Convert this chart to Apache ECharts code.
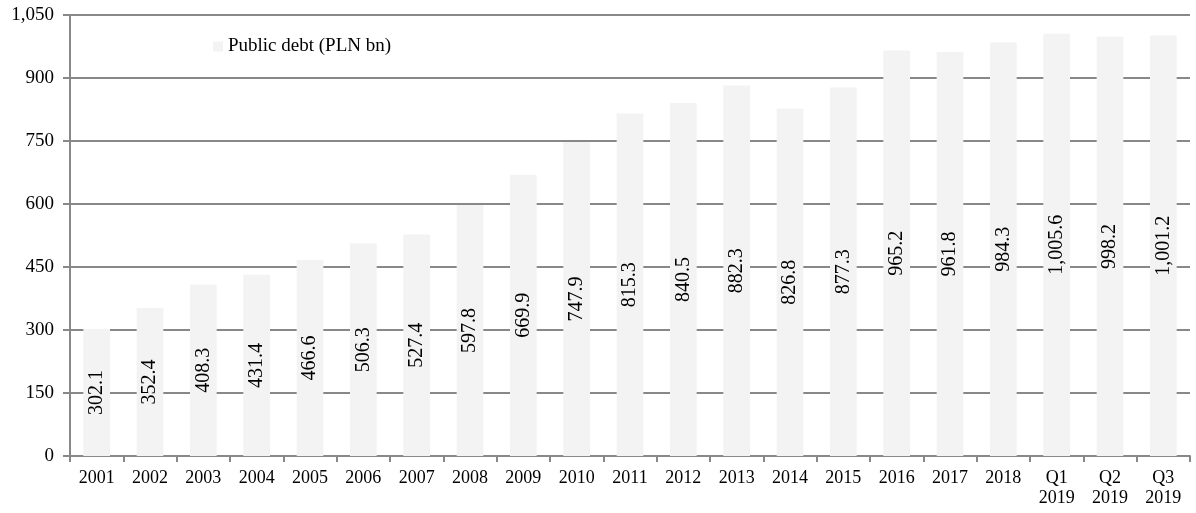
<!DOCTYPE html>
<html><head><meta charset="utf-8">
<script src="https://cdn.jsdelivr.net/npm/echarts@6/dist/echarts.min.js"></script>
<style>html,body{margin:0;padding:0;background:#fff}#c{width:1196px;height:513px}</style>
</head><body><div id="c"></div>
<script>
const categories = ['2001','2002','2003','2004','2005','2006','2007','2008','2009','2010','2011','2012','2013','2014','2015','2016','2017','2018','Q1\n2019','Q2\n2019','Q3\n2019'];
const debtValues = [302.1,352.4,408.3,431.4,466.6,506.3,527.4,597.8,669.9,747.9,815.3,840.5,882.3,826.8,877.3,965.2,961.8,984.3,1005.6,998.2,1001.2];
const seriesName = 'Public debt (PLN bn)';
const fmt = v => v.toLocaleString('en-US', {minimumFractionDigits:1, maximumFractionDigits:1});
const font = '"Liberation Serif", "Times New Roman", serif';
const chart = echarts.init(document.getElementById('c'));
chart.setOption({
  animation:false,
  textStyle:{fontFamily:font},
  grid:{left:70,right:6,top:15,bottom:57,containLabel:false},
  legend:{show:true,left:208,top:32,itemWidth:10,itemHeight:10,itemGap:6,
    textStyle:{fontFamily:font,fontSize:19,color:'#000'},data:[{name:seriesName,icon:'rect'}]},
  xAxis:{type:'category',data:categories,
    axisLine:{lineStyle:{color:'#888',width:2}},
    axisTick:{show:true,alignWithLabel:false,length:6,lineStyle:{color:'#888',width:2}},
    axisLabel:{fontFamily:font,fontSize:18,color:'#000',margin:12,lineHeight:20,interval:0}},
  yAxis:{type:'value',min:0,max:1050,interval:150,
    axisLine:{show:true,lineStyle:{color:'#888',width:2}},
    axisTick:{show:true,length:7,lineStyle:{color:'#888',width:2}},
    splitLine:{lineStyle:{color:'#888',width:2}},
    axisLabel:{fontFamily:font,fontSize:19,color:'#000',margin:16,formatter:v=>v.toLocaleString('en-US')}},
  series:[{name:seriesName,type:'bar',data:debtValues,barWidth:'50%',z:3,
    itemStyle:{color:'#f3f3f3'},
    label:{show:true,position:'inside',rotate:90,fontFamily:font,fontSize:20,color:'#000',
      formatter:p=>fmt(p.value)}}]
});
</script></body></html>
